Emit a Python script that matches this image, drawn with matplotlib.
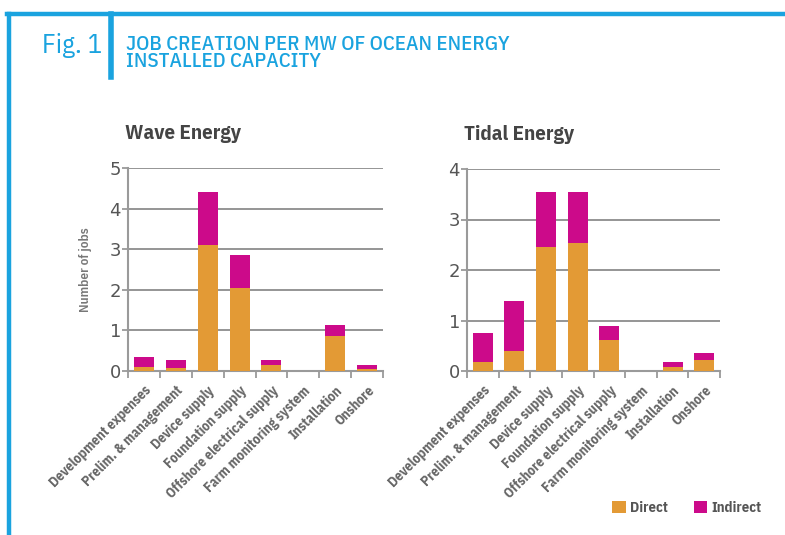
import numpy as np
import matplotlib
matplotlib.use("Agg")
import matplotlib.pyplot as plt
from matplotlib.lines import Line2D

# categories shared by both panels
categories = ["Development expenses", "Prelim. & management", "Device supply",
              "Foundation supply", "Offshore electrical supply",
              "Farm monitoring system", "Installation", "Onshore"]

# values (jobs per MW)
wave_direct = [0.09, 0.08, 3.10, 2.05, 0.15, 0.0, 0.85, 0.05]
wave_indirect = [0.26, 0.19, 1.30, 0.80, 0.12, 0.0, 0.28, 0.10]
tidal_direct = [0.18, 0.39, 2.46, 2.54, 0.61, 0.0, 0.07, 0.21]
tidal_indirect = [0.57, 1.00, 1.08, 1.00, 0.28, 0.0, 0.11, 0.15]

ORANGE = "#E39A35"
MAGENTA = "#CC0A8A"
BLUE = "#1AA3DF"
GRAY = "#555555"
narrow = ["IBM Plex Sans Condensed", "DejaVu Sans"]

fig = plt.figure(figsize=(7.85, 5.35), dpi=100)

# blue frame
fig.add_artist(Line2D([7/785, 1], [1 - 14/535] * 2, color=BLUE, lw=3.2))
fig.add_artist(Line2D([9/785] * 2, [0, 1 - 14/535], color=BLUE, lw=3.2))
fig.add_artist(Line2D([111/785] * 2, [1 - 77/535, 1 - 14/535], color=BLUE, lw=4))

fig.text(42/785, 1 - 46/535, "Fig. 1", color=BLUE, fontsize=19.5,
         family=narrow, va="center", ha="left")
fig.text(126/785, 1 - 53/535, "JOB CREATION PER MW OF OCEAN ENERGY\nINSTALLED CAPACITY",
         color=BLUE, fontsize=15, family=narrow, fontweight="medium",
         va="center", ha="left", linespacing=0.82)


def panel(rect, direct, indirect, ymax, title, ylabel=None):
    ax = fig.add_axes(rect)
    x = np.arange(len(categories))
    ax.bar(x, direct, width=0.63, color=ORANGE, zorder=3, label="Direct")
    ax.bar(x, indirect, width=0.63, bottom=direct, color=MAGENTA, zorder=3,
           label="Indirect")
    ax.set_xlim(-0.5, len(categories) - 0.5)
    ax.set_ylim(0, ymax)
    ax.set_yticks(range(ymax + 1))
    ax.yaxis.grid(True, color="#8c8c8c", lw=1.3, zorder=0)
    for s in ["top", "right"]:
        ax.spines[s].set_visible(False)
    for s in ["left", "bottom"]:
        ax.spines[s].set_color("#9a9a9a")
        ax.spines[s].set_linewidth(1.5)
    ax.tick_params(axis="y", colors="#9a9a9a", labelcolor=GRAY, labelsize=13,
                   length=4, width=1.3, pad=1)
    ax.set_xticks(x)
    ax.set_xticklabels(categories, rotation=45, ha="right",
                       rotation_mode="anchor", family=narrow,
                       fontweight="bold", fontsize=10, color="#666666")
    ax.tick_params(axis="x", length=0, pad=9)
    ax.set_xticks(np.arange(len(categories) + 1) - 0.5, minor=True)
    ax.tick_params(axis="x", which="minor", length=5, width=1.3,
                   color="#9a9a9a")
    ax.text(-0.01, 1.17, title, transform=ax.transAxes, fontsize=15,
            fontweight="bold", family=narrow, color="#444444", ha="left",
            va="center")
    if ylabel:
        ax.set_ylabel(ylabel, family=narrow, fontsize=9.5, fontweight="semibold",
                      color="#777777", labelpad=13)
    return ax


ax1 = panel([128/785, 1 - 371/535, 255/785, 203/535], wave_direct,
            wave_indirect, 5, "Wave Energy", "Number of jobs")
ax2 = panel([467/785, 1 - 371/535, 253/785, 202/535], tidal_direct,
            tidal_indirect, 4, "Tidal Energy")

handles, labels = ax2.get_legend_handles_labels()
fig.legend(handles, labels, loc="center", bbox_to_anchor=(687/785, 1 - 508/535),
           ncol=2, frameon=False, handlelength=0.9, handleheight=0.9,
           handletextpad=0.3, columnspacing=1.8,
           prop={"family": narrow, "weight": "bold", "size": 10.5},
           labelcolor="#555555")

fig.savefig("out.png", dpi=100, facecolor="white")
